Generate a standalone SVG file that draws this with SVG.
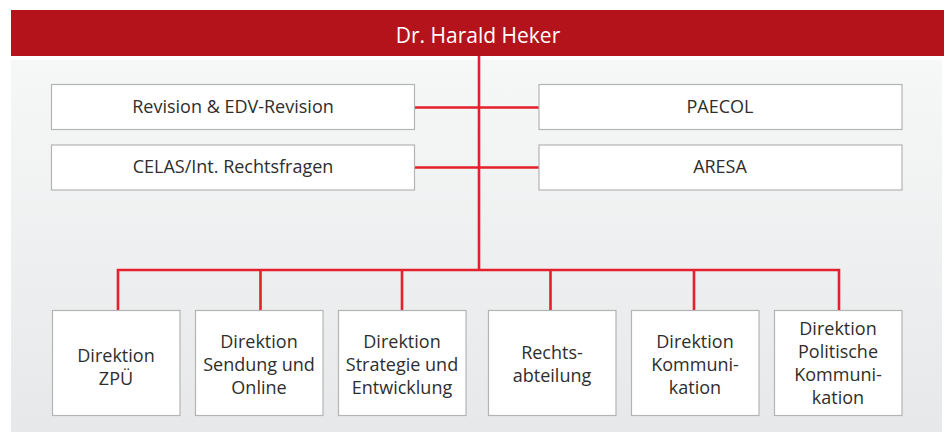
<svg xmlns="http://www.w3.org/2000/svg" width="949" height="436" viewBox="0 0 949 436">
<defs>
<linearGradient id="bg" x1="0" y1="0" x2="0" y2="1">
<stop offset="0" stop-color="#f6f7f7"/>
<stop offset="1" stop-color="#e7e8e9"/>
</linearGradient>
</defs>
<style>
.box{fill:#fff;stroke:#b4b4b4;stroke-width:1.2}
.t{font-family:"Open Sans","Liberation Sans",sans-serif;font-size:18px;fill:#2e2e2e;text-anchor:middle}
.title{font-family:"Open Sans","Liberation Sans",sans-serif;font-size:21px;fill:#fff;text-anchor:middle}
.c{stroke:#e3202b;stroke-width:2.6;fill:none}
</style>
<rect x="11" y="60" width="931" height="372" fill="url(#bg)"/>
<g id="top">
<rect x="11" y="10" width="933" height="46" fill="#b5131b"/>
<text class="title" x="478" y="43">Dr. Harald Heker</text>
</g>
<g id="connectors">
<path class="c" d="M479 56V270"/>
<path class="c" d="M414 107.5H539M414 167.5H539"/>
<path class="c" d="M118 310V270H839V310M260.5 270V310M402 270V310M550.5 270V310M694 270V310"/>
</g>
<g id="revision">
<rect class="box" x="51.5" y="84.5" width="363" height="45"/>
<text class="t" x="233" y="112.5">Revision &amp; EDV-Revision</text>
</g>
<g id="celas">
<rect class="box" x="51.5" y="145" width="363" height="45"/>
<text class="t" x="233" y="172.5">CELAS/Int. Rechtsfragen</text>
</g>
<g id="paecol">
<rect class="box" x="539" y="84.5" width="363" height="45"/>
<text class="t" x="720" y="112.5">PAECOL</text>
</g>
<g id="aresa">
<rect class="box" x="539" y="145" width="363" height="45"/>
<text class="t" x="720" y="172.5">ARESA</text>
</g>
<g id="zpu">
<rect class="box" x="52.5" y="310.5" width="127.5" height="105"/>
<text class="t" x="116" y="362">Direktion</text>
<text class="t" x="116" y="384.5">ZPÜ</text>
</g>
<g id="sendung">
<rect class="box" x="195.5" y="310.5" width="127.5" height="105"/>
<text class="t" x="259" y="347.5">Direktion</text>
<text class="t" x="259" y="370.5">Sendung und</text>
<text class="t" x="259" y="393.5">Online</text>
</g>
<g id="strategie">
<rect class="box" x="338.5" y="310.5" width="127.5" height="105"/>
<text class="t" x="402" y="347.5">Direktion</text>
<text class="t" x="402" y="370.5">Strategie und</text>
<text class="t" x="402" y="393.5">Entwicklung</text>
</g>
<g id="recht">
<rect class="box" x="488.5" y="310.5" width="127.5" height="105"/>
<text class="t" x="552" y="359">Rechts-</text>
<text class="t" x="552" y="382">abteilung</text>
</g>
<g id="kommunikation">
<rect class="box" x="631.5" y="310.5" width="127.5" height="105"/>
<text class="t" x="695" y="347.5">Direktion</text>
<text class="t" x="695" y="370.5">Kommuni-</text>
<text class="t" x="695" y="393.5">kation</text>
</g>
<g id="politische">
<rect class="box" x="774.5" y="310.5" width="127.5" height="105"/>
<text class="t" x="838" y="335">Direktion</text>
<text class="t" x="838" y="358">Politische</text>
<text class="t" x="838" y="381">Kommuni-</text>
<text class="t" x="838" y="403.5">kation</text>
</g>
</svg>
